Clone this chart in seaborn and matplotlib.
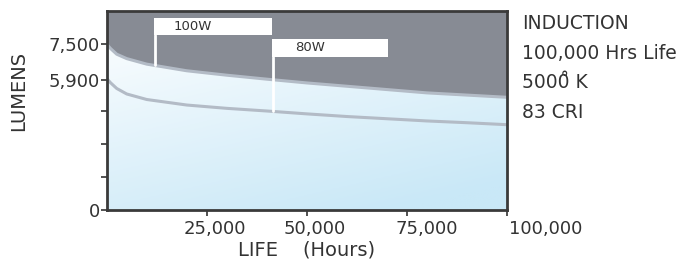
import numpy as np
import pandas as pd
import matplotlib
matplotlib.use('Agg')
import matplotlib.pyplot as plt
from matplotlib.patches import Rectangle
from matplotlib.transforms import ScaledTranslation
import seaborn as sns

# ── Data ──────────────────────────────────────────────────────────
hours = [0, 1000, 2500, 5000, 10000, 20000, 30000, 40000, 50000,
         60000, 70000, 80000, 90000, 100000]
lumens_100w = [7500, 7300, 7050, 6850, 6600, 6300, 6100, 5920, 5750,
               5600, 5450, 5300, 5200, 5100]
lumens_80w = [5950, 5750, 5500, 5250, 5000, 4750, 4600, 4480, 4350,
              4230, 4130, 4030, 3950, 3860]
x_ticks = [25000, 50000, 75000, 100000]
x_labels = ['25,000', '50,000', '75,000', '100,000']
y_ticks = [0, 1500, 3000, 4500, 5900, 7500]
y_labels = ['0', '', '', '', '5,900', '7,500']
side_notes = ['INDUCTION', '100,000 Hrs Life', '5000\u030a K', '83 CRI']

DARK = '#878b94'
LINE = '#b3bbc6'
TXT = '#333333'

df = pd.DataFrame({'hours': hours, '100W': lumens_100w, '80W': lumens_80w})
long = df.melt(id_vars='hours', var_name='lamp', value_name='lumens')

sns.set_style('white')
plt.rcParams['font.family'] = ['DejaVu Sans']

fig = plt.figure(figsize=(6.84, 2.64), dpi=100)
ax = fig.add_axes([0.156, 0.2045, 0.585, 0.7535])
XMAX, YMAX = 100000, 9000
ax.set_xlim(0, XMAX)
ax.set_ylim(0, YMAX)

# background gradient: white top-left -> light blue bottom-right
gy, gx = np.mgrid[0:1:100j, 0:1:100j]
t = np.clip(0.75 * gy + 0.35 * gx, 0, 1)  # gy=0 at top
c0 = np.array([1.0, 1.0, 1.0])
c1 = np.array([0xc9, 0xe8, 0xf7]) / 255
grad = c0 + (c1 - c0) * t[..., None]
ax.imshow(grad, extent=[0, XMAX, 0, YMAX], aspect='auto', origin='upper', zorder=0)

# dark region above the 100W curve
ax.fill_between(df['hours'], df['100W'], YMAX, color=DARK, lw=0, zorder=1)

sns.lineplot(data=long, x='hours', y='lumens', hue='lamp',
             palette={'100W': LINE, '80W': LINE}, lw=2.2,
             legend=False, ax=ax, zorder=2)

# label flags
def flag(x0, x1, y0, y1, xl, series, text):
    ax.add_patch(Rectangle((x0, y0), x1 - x0, y1 - y0, color='white', lw=0, zorder=3))
    y_end = np.interp(xl, hours, series)
    ax.plot([xl, xl], [y0, y_end], color='white', lw=2, zorder=3)
    ax.text(x0 + 0.33 * (x1 - x0), (y0 + y1) / 2, text, ha='center', va='center',
            fontsize=9.5, color=TXT, zorder=4)

flag(11800, 41300, 7920, 8690, 12000, lumens_100w, '100W')
flag(41300, 70300, 6920, 7740, 41600, lumens_80w, '80W')

ax.set_xticks(x_ticks)
ax.set_xticklabels(x_labels)
ax.set_yticks(y_ticks)
ax.set_yticklabels(y_labels)
ax.tick_params(axis='both', direction='out', length=4, width=1.2, color=TXT,
               labelsize=13, labelcolor=TXT, pad=1, bottom=True, left=True)
ax.tick_params(axis='x', pad=3)
# the labels in the original sit a little right of their ticks
for lbl, dx in zip(ax.get_xticklabels(), [8, 8, 20, 39]):
    lbl.set_transform(lbl.get_transform() + ScaledTranslation(dx / 100, 0, fig.dpi_scale_trans))
for s in ax.spines.values():
    s.set_visible(True)
    s.set_color('#3a3a3a')
    s.set_linewidth(2)

ax.set_xlabel('LIFE    (Hours)', fontsize=14, color=TXT, labelpad=2)
ax.set_ylabel('LUMENS', fontsize=14, color=TXT)
ax.yaxis.set_label_coords(-0.197, 0.6)

for i, note in enumerate(side_notes):
    fig.text(0.763, 0.91 - i * 0.112, note, fontsize=13.5, color=TXT, va='center')

fig.savefig('out.png', dpi=100)
